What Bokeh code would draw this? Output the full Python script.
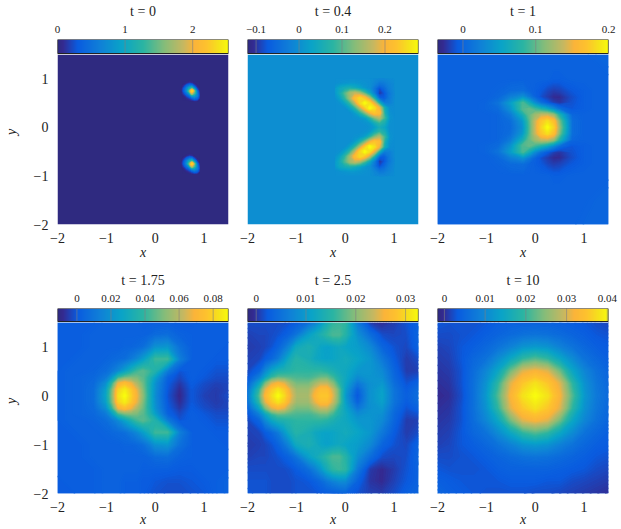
import numpy as np
from bokeh.embed import file_html
from bokeh.resources import INLINE
from bokeh.plotting import figure
from bokeh.layouts import column, row
from bokeh.models import (LinearAxis, Range1d, FixedTicker, LinearColorMapper)

# ---- data: values read as percent of each panel's colour scale ----
TIMES = ["t = 0", "t = 0.4", "t = 1", "t = 1.75", "t = 2.5", "t = 10"]
VMIN = [0.0, -0.12, -0.035, -0.0114, -0.00175, -0.0017]
VMAX = [2.53, 0.278, 0.2, 0.089, 0.0326, 0.0403]
TICKS = [[0, 1, 2], [-0.1, 0, 0.1, 0.2], [0, 0.1, 0.2], [0, 0.02, 0.04, 0.06, 0.08],
         [0, 0.01, 0.02, 0.03], [0, 0.01, 0.02, 0.03, 0.04]]
TICK_LABELS = [["0", "1", "2"], ["\u22120.1", "0", "0.1", "0.2"], ["0", "0.1", "0.2"],
               ["0", "0.02", "0.04", "0.06", "0.08"], ["0", "0.01", "0.02", "0.03"],
               ["0", "0.01", "0.02", "0.03", "0.04"]]
AXIS_TICKS = [-2, -1, 0, 1]
AXIS_LABELS = {-2: "\u22122", -1: "\u22121", 0: "0", 1: "1"}
BACKGROUND = [0, 30, 14, 13, 20, 15]

# t = 0: one blob, repeated at y offset -1.5
BLOB_T0_X = [0.55, 0.6, 0.65, 0.7, 0.75, 0.8, 0.85, 0.9]
BLOB_T0_Y = [0.55, 0.6, 0.65, 0.7, 0.75, 0.8, 0.85, 0.9, 0.95]
BLOB_T0 = [
    [0, 0, 0, 0, 1, 2, 2, 0],
    [0, 0, 2, 5, 10, 16, 14, 3],
    [0, 2, 8, 14, 28, 32, 24, 4],
    [1, 8, 18, 30, 68, 50, 22, 3],
    [2, 14, 28, 55, 92, 55, 16, 1],
    [1, 12, 25, 40, 50, 25, 6, 0],
    [0, 5, 14, 20, 20, 8, 1, 0],
    [0, 0, 2, 6, 4, 0, 0, 0],
    [0, 0, 0, 0, 0, 0, 0, 0],
]

# t = 0.4: mirrored about y=0
BLOB_T04_X = [-0.2, -0.1, 0.0, 0.1, 0.2, 0.3, 0.4, 0.5, 0.6, 0.7, 0.8, 0.9, 1.0]
BLOB_T04_Y = [0.0, 0.1, 0.2, 0.3, 0.4, 0.5, 0.6, 0.7, 0.8, 0.9, 1.0]
BLOB_T04 = [
    [30, 30, 30, 30, 30, 30, 30, 31, 34, 42, 38, 30, 30],
    [30, 30, 30, 30, 30, 30, 31, 33, 42, 50, 44, 31, 30],
    [30, 30, 30, 30, 31, 32, 35, 46, 60, 69, 52, 32, 30],
    [30, 30, 30, 30, 34, 44, 58, 76, 87, 83, 45, 31, 29],
    [30, 30, 30, 36, 47, 66, 86, 100, 93, 75, 42, 30, 29],
    [30, 31, 37, 49, 68, 90, 100, 92, 72, 40, 22, 24, 28],
    [31, 37, 49, 66, 84, 92, 84, 66, 40, 14, 12, 22, 28],
    [33, 42, 55, 67, 72, 66, 53, 38, 22, 3, 10, 21, 27],
    [34, 40, 43, 45, 42, 38, 33, 30, 20, 8, 16, 24, 28],
    [30, 31, 32, 33, 33, 32, 31, 30, 26, 20, 22, 26, 28],
    [30, 30, 30, 30, 30, 30, 30, 30, 28, 27, 27, 28, 29],
]

# t = 1, mirrored about y=0
X_T1 = [-2, -1.75, -1.5, -1.25, -1, -0.75, -0.5, -0.25, -0.125, 0, 0.125, 0.25, 0.375, 0.5, 0.75, 1, 1.25, 1.5]
Y_T1 = [-2, -1.5, -1.25, -1, -0.75, -0.625, -0.5, -0.375, -0.25, -0.125, 0]
GRID_T1 = [
    [14, 14, 14, 14, 14, 14, 14, 14, 14, 14, 14, 14, 14, 14, 14, 15, 15, 15],
    [14, 14, 14, 14, 14, 14, 14, 14, 14, 14, 14, 14, 14, 14, 14, 14, 15, 15],
    [14, 14, 14, 14, 14, 14, 14, 14, 14, 14, 14, 14, 14, 14, 14, 14, 14, 15],
    [14, 14, 14, 14, 14, 14, 14, 14, 14, 14, 14, 14, 13, 13, 14, 14, 14, 14],
    [14, 14, 14, 14, 14, 15, 17, 18, 15, 13, 11, 8, 6, 7, 11, 13, 14, 14],
    [14, 14, 14, 14, 14, 16, 24, 30, 22, 14, 9, 6, 3, 3, 9, 13, 14, 14],
    [14, 14, 14, 14, 15, 20, 35, 54, 42, 28, 18, 12, 7, 5, 10, 13, 14, 14],
    [14, 14, 14, 14, 15, 17, 30, 55, 58, 52, 45, 38, 28, 18, 11, 13, 14, 14],
    [14, 14, 14, 14, 14, 15, 22, 42, 57, 66, 72, 72, 65, 45, 16, 14, 14, 14],
    [14, 14, 14, 14, 14, 15, 18, 33, 53, 72, 87, 93, 85, 58, 18, 14, 14, 14],
    [14, 14, 14, 14, 14, 15, 17, 30, 52, 72, 90, 100, 90, 62, 18, 14, 14, 14],
]

# t = 1.75, mirrored about y=0
X_T175 = [-2, -1.75, -1.5, -1.25, -1, -0.875, -0.75, -0.625, -0.5, -0.375, -0.25, -0.125, 0, 0.25, 0.5, 0.75, 1, 1.25, 1.5]
Y_T175 = [-2, -1.75, -1.5, -1.25, -1, -0.75, -0.5, -0.375, -0.25, -0.125, 0]
GRID_T175 = [
    [12, 12, 13, 13, 14, 14, 14, 13, 13, 13, 12, 11, 10, 9, 9, 10, 11, 13, 14],
    [12, 13, 13, 13, 14, 14, 14, 13, 13, 13, 12, 12, 11, 10, 10, 11, 12, 13, 14],
    [13, 13, 13, 13, 14, 14, 14, 14, 14, 14, 13, 13, 13, 13, 12, 12, 13, 13, 13],
    [13, 13, 13, 14, 14, 14, 14, 14, 14, 14, 14, 15, 17, 18, 14, 13, 13, 13, 13],
    [13, 13, 13, 14, 14, 14, 14, 15, 15, 16, 18, 23, 30, 32, 19, 13, 13, 13, 12],
    [13, 13, 14, 14, 15, 16, 17, 18, 22, 27, 34, 42, 52, 52, 24, 13, 13, 12, 12],
    [13, 14, 14, 15, 18, 22, 28, 36, 44, 52, 56, 52, 46, 22, 10, 13, 12, 10, 10],
    [13, 14, 15, 16, 22, 33, 50, 57, 60, 60, 56, 47, 35, 14, 8, 13, 11, 9, 9],
    [13, 14, 15, 17, 30, 50, 78, 84, 78, 68, 58, 44, 30, 12, 5, 12, 9, 7, 8],
    [13, 14, 15, 18, 36, 60, 90, 96, 88, 76, 60, 44, 29, 11, 3, 11, 8, 6, 8],
    [13, 14, 15, 18, 38, 62, 93, 100, 90, 78, 62, 44, 28, 10, 2, 11, 7, 6, 9],
]

# t = 2.5, mirrored about y=0
X_T25 = [-2, -1.75, -1.625, -1.5, -1.375, -1.25, -1.125, -1, -0.75, -0.625, -0.5, -0.375, -0.25, -0.125, 0, 0.25, 0.5, 0.75, 1, 1.25, 1.5]
Y_T25 = [-2, -1.75, -1.5, -1.25, -1, -0.75, -0.5, -0.375, -0.25, -0.125, 0]
GRID_T25 = [
    [11, 10, 10, 9, 9, 9, 9, 10, 10, 10, 11, 12, 12, 13, 14, 10, 7, 6, 9, 13, 15],
    [10, 10, 10, 9, 9, 9, 9, 10, 11, 13, 16, 21, 25, 28, 28, 14, 5, 3, 7, 11, 14],
    [9, 9, 9, 9, 9, 9, 10, 12, 18, 24, 32, 42, 50, 52, 50, 22, 6, 3, 6, 10, 14],
    [7, 8, 8, 9, 10, 12, 15, 20, 35, 40, 45, 50, 54, 54, 48, 30, 18, 9, 8, 9, 15],
    [6, 7, 8, 10, 14, 20, 28, 40, 45, 42, 38, 36, 38, 40, 38, 35, 28, 15, 10, 8, 14],
    [7, 8, 12, 16, 22, 32, 42, 48, 44, 40, 38, 37, 38, 40, 42, 38, 33, 22, 12, 6, 9],
    [8, 15, 28, 38, 44, 46, 48, 50, 50, 50, 50, 48, 45, 42, 40, 33, 33, 28, 15, 6, 7],
    [10, 24, 38, 50, 56, 56, 55, 54, 53, 55, 58, 58, 52, 45, 40, 28, 32, 30, 16, 8, 10],
    [14, 38, 60, 75, 80, 76, 66, 60, 60, 66, 72, 72, 62, 48, 38, 20, 30, 33, 18, 10, 14],
    [18, 50, 76, 88, 94, 88, 75, 66, 66, 76, 84, 84, 72, 55, 35, 13, 30, 36, 20, 12, 17],
    [20, 55, 82, 92, 100, 92, 78, 68, 68, 80, 88, 88, 75, 55, 33, 10, 30, 37, 20, 13, 18],
]

# t = 10, mirrored about y=0
X_T10 = [-2, -1.75, -1.5, -1.25, -1, -0.75, -0.5, -0.25, 0, 0.25, 0.5, 0.75, 1, 1.25, 1.5]
Y_T10 = [-2, -1.75, -1.5, -1.25, -1, -0.75, -0.5, -0.25, 0]
GRID_T10 = [
    [15, 13, 12, 11, 10, 10, 10, 10, 9, 9, 8, 7, 6, 5, 4],
    [13, 12, 11, 11, 11, 11, 12, 12, 12, 11, 11, 9, 8, 7, 6],
    [11, 10, 10, 10, 11, 13, 14, 14, 14, 14, 13, 12, 11, 9, 8],
    [9, 9, 10, 11, 13, 15, 17, 19, 20, 19, 17, 15, 13, 11, 10],
    [7, 8, 11, 13, 16, 20, 25, 31, 33, 31, 25, 20, 16, 13, 12],
    [6, 7, 11, 16, 20, 29, 39, 50, 55, 50, 39, 29, 20, 16, 13],
    [5, 6, 10, 18, 27, 39, 59, 76, 80, 76, 59, 39, 27, 19, 15],
    [4, 5, 10, 19, 31, 50, 76, 88, 94, 88, 76, 50, 31, 21, 16],
    [3, 4, 9, 19, 33, 55, 80, 94, 100, 94, 80, 55, 33, 22, 17],
]
X_NODES = [None, None, X_T1, X_T175, X_T25, X_T10]
Y_NODES = [None, None, Y_T1, Y_T175, Y_T25, Y_T10]
GRIDS = [None, None, GRID_T1, GRID_T175, GRID_T25, GRID_T10]

PARULA_POS = [0, 0.03, 0.116, 0.25, 0.375, 0.5, 0.625, 0.74, 0.8, 0.875, 0.95, 1]
PARULA = ["#2f2a80", "#352a90", "#0a5ce0", "#1081d8", "#0aa4c8", "#2bb5a3", "#86bd7a", "#c9b860",
          "#fbb43a", "#fec32e", "#f5e51a", "#f9fb0e"]
FONT = "Liberation Serif"
INK = "#222222"
N_LEVELS = 161


def make_palette(n=256):
    rgb = np.array([[int(c[i:i + 2], 16) for i in (1, 3, 5)] for c in PARULA], float)
    t = np.linspace(0, 1, n)
    out = [np.interp(t, PARULA_POS, rgb[:, k]) for k in range(3)]
    return ["#%02x%02x%02x" % (int(r), int(g), int(b)) for r, g, b in zip(*out)]


PALETTE = make_palette()
BANDS = make_palette(N_LEVELS - 1)


def shade(p, x, y, z, vmin, vmax):
    # filled bands of the library's contour glyph: the shading between the read values
    span = vmax - vmin
    levels = np.linspace(vmin - 1e-3 * span, vmax + 1e-3 * span, N_LEVELS)
    p.contour(x, y, z, levels, fill_color=BANDS, line_color=BANDS + [BANDS[-1]], line_width=1.6)


def mirrored(values, ys):
    # rows typed for y <= 0; the upper half up to y = 1.5 repeats them
    ys = np.asarray(ys, float)
    keep = np.where((ys < 0) & (ys >= -1.5))[0][::-1]
    return np.vstack([values, values[keep]]), np.concatenate([ys, -ys[keep]])


def panel(i, width, height, left, right, top, bottom, ymax, show_y, x_label_gap):
    vmin, vmax = VMIN[i], VMAX[i]
    val = lambda a: vmin + (vmax - vmin) * np.asarray(a, float) / 100.0
    mapper = LinearColorMapper(palette=PALETTE, low=vmin, high=vmax)
    p = figure(width=width, height=height, x_range=Range1d(-2, 1.5), y_range=Range1d(-2, ymax),
               output_backend="svg", toolbar_location=None, x_axis_location=None, y_axis_location=None,
               min_border_left=left, min_border_right=right, min_border_top=top, min_border_bottom=bottom,
               outline_line_color=None, background_fill_color="white")
    p.grid.visible = False

    p.image(image=[np.full((2, 2), float(val(BACKGROUND[i])))], x=-2, y=-2, dw=3.5, dh=3.5, color_mapper=mapper)
    if i == 0:
        a = val(BLOB_T0)
        for off in (0, -1.5):
            shade(p, BLOB_T0_X, np.array(BLOB_T0_Y) + off, a, vmin, vmax)
    elif i == 1:
        a = val(BLOB_T04)
        full = np.vstack([a[:0:-1], a])
        ys = np.concatenate([-np.array(BLOB_T04_Y)[:0:-1], BLOB_T04_Y])
        shade(p, BLOB_T04_X, ys, full, vmin, vmax)
    else:
        full, ys = mirrored(val(GRIDS[i]), Y_NODES[i])
        shade(p, X_NODES[i], ys, full, vmin, vmax)

    # white strip under the colour bar, then the bar with its own value range
    p.quad(left=[-2], right=[1.5], bottom=[1.5], top=[ymax], fill_color="white", line_color=None)
    p.extra_x_ranges["cb"] = Range1d(vmin, vmax)
    bar_bottom = 1.5 + 1.0 / ((height - top - bottom) / (ymax + 2))
    p.image(image=[np.linspace(vmin, vmax, 256)[None, :]], x=vmin, y=bar_bottom, dw=vmax - vmin,
            dh=ymax - bar_bottom, color_mapper=mapper, x_range_name="cb")
    p.segment(x0=TICKS[i], x1=TICKS[i], y0=[bar_bottom] * len(TICKS[i]), y1=[ymax] * len(TICKS[i]),
              line_color="#808080", line_alpha=0.6, line_width=1, x_range_name="cb")
    p.quad(left=[vmin], right=[vmax], bottom=[bar_bottom], top=[ymax], fill_color=None,
           line_color=INK, line_width=1.2, x_range_name="cb")

    top_axis = LinearAxis(x_range_name="cb", ticker=FixedTicker(ticks=TICKS[i]),
                          major_label_overrides=dict(zip(TICKS[i], TICK_LABELS[i])),
                          major_label_text_font=FONT, major_label_text_font_size="11px",
                          major_label_text_color=INK, major_label_standoff=1,
                          major_tick_line_color=None, minor_tick_line_color=None, axis_line_color=None,
                          axis_label=TIMES[i], axis_label_text_font=FONT, axis_label_text_font_style="normal",
                          axis_label_text_font_size="14px", axis_label_text_color=INK, axis_label_standoff=4)
    p.add_layout(top_axis, "above")

    x_axis = LinearAxis(ticker=FixedTicker(ticks=AXIS_TICKS), major_label_overrides=AXIS_LABELS,
                        major_label_text_font=FONT, major_label_text_font_size="14px",
                        major_label_text_color=INK, major_label_standoff=2,
                        major_tick_line_color=None, minor_tick_line_color=None, axis_line_color=None,
                        axis_label="x", axis_label_text_font=FONT, axis_label_text_font_style="italic",
                        axis_label_text_font_size="14px", axis_label_text_color=INK,
                        axis_label_standoff=x_label_gap)
    p.add_layout(x_axis, "below")
    if show_y:
        y_axis = LinearAxis(ticker=FixedTicker(ticks=AXIS_TICKS), major_label_overrides=AXIS_LABELS,
                            major_label_text_font=FONT, major_label_text_font_size="14px",
                            major_label_text_color=INK, major_label_standoff=3, bounds=(-2, 1.5),
                            major_tick_line_color=None, minor_tick_line_color=None, axis_line_color=None,
                            axis_label="y", axis_label_text_font=FONT, axis_label_text_font_style="italic",
                            axis_label_text_font_size="14px", axis_label_text_color=INK, axis_label_standoff=12)
        p.add_layout(y_axis, "left")
    return p


TOP_H, BOT_H = 262, 267
panels = [
    panel(0, 237, TOP_H, 57, 9, 39, 38, 1.809, True, -1),
    panel(1, 190, TOP_H, 10, 9, 39, 38, 1.809, False, -1),
    panel(2, 194, TOP_H, 10, 13, 39, 38, 1.809, False, -1),
    panel(3, 237, BOT_H, 57, 9, 46, 36, 1.786, True, -3),
    panel(4, 190, BOT_H, 10, 9, 46, 36, 1.786, False, -3),
    panel(5, 194, BOT_H, 10, 13, 46, 36, 1.786, False, -3),
]
page = column(row(*panels[:3], spacing=0), row(*panels[3:], spacing=0), spacing=0)
open("out.html", "w").write(file_html(page, INLINE))
